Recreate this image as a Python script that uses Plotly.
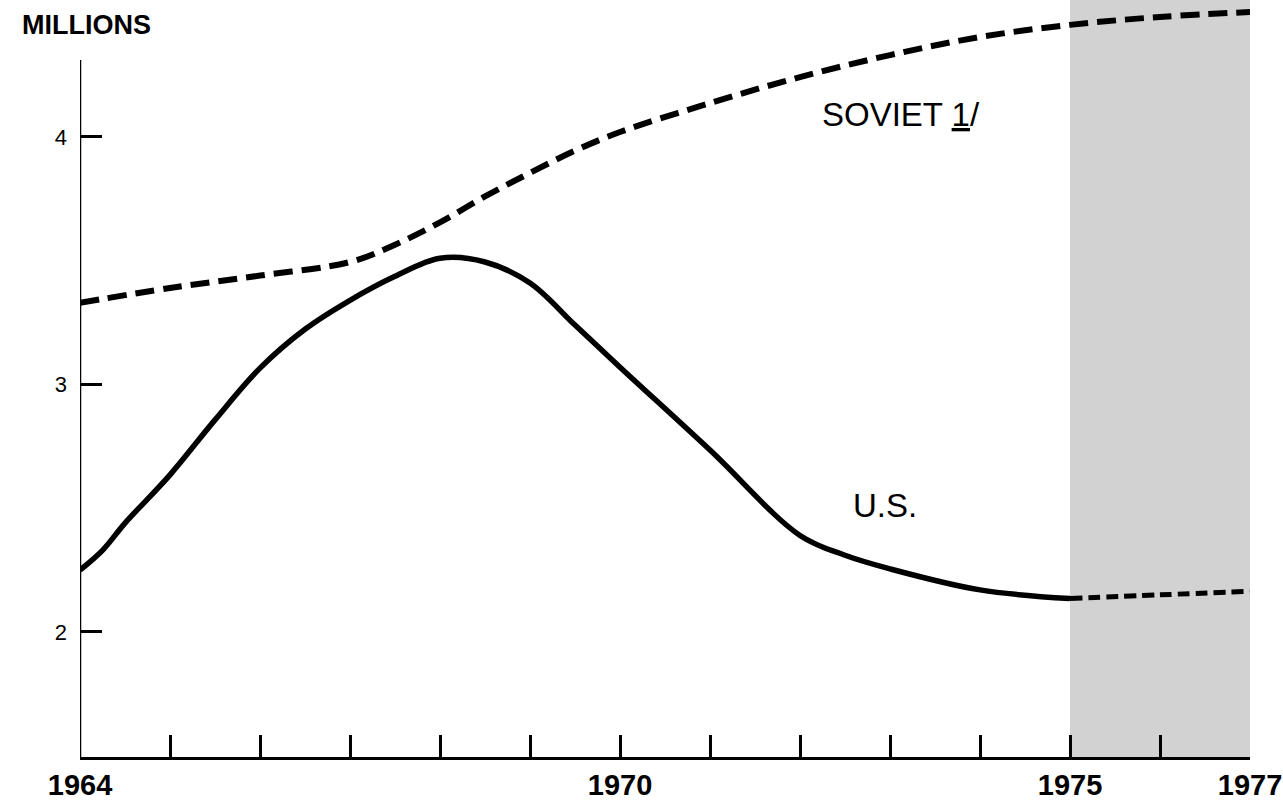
import plotly.graph_objects as go

# ---- data ----
soviet_years = [1964, 1965, 1966, 1967, 1967.5, 1968, 1968.5, 1969, 1969.5, 1970,
                1971, 1972, 1973, 1974, 1975, 1976, 1977]
soviet_vals = [3.33, 3.39, 3.44, 3.495, 3.565, 3.655, 3.76, 3.855, 3.945, 4.02,
               4.137, 4.242, 4.331, 4.404, 4.453, 4.485, 4.505]

us_years = [1964, 1964.25, 1964.5, 1965, 1965.5, 1966, 1966.5, 1967, 1967.5, 1968,
            1968.5, 1969, 1969.5, 1970, 1971, 1972, 1972.5, 1973, 1974, 1975]
us_vals = [2.25, 2.33, 2.44, 2.635, 2.857, 3.066, 3.223, 3.34, 3.437, 3.51,
           3.495, 3.41, 3.24, 3.07, 2.735, 2.39, 2.31, 2.255, 2.17, 2.135]

us_proj_years = [1975, 1976, 1977]
us_proj_vals = [2.135, 2.15, 2.165]

x_ticks = list(range(1964, 1978))
x_labels = ["1964", "", "", "", "", "", "1970", "", "", "", "", "1975", "", "1977"]
y_ticks = [2, 3, 4]
y_labels = ["2", "3", "4"]

shade_start, shade_end = 1975, 1977
y_min, y_max = 1.4949, 4.5535
y_axis_top = 4.311

fig = go.Figure()

fig.add_trace(go.Scatter(x=soviet_years, y=soviet_vals, mode="lines",
                         line=dict(color="black", width=6, dash="19px,9px", shape="spline"),
                         showlegend=False, hoverinfo="skip"))
fig.add_trace(go.Scatter(x=us_years, y=us_vals, mode="lines",
                         line=dict(color="black", width=5.5, shape="spline"),
                         showlegend=False, hoverinfo="skip"))
fig.add_trace(go.Scatter(x=us_proj_years, y=us_proj_vals, mode="lines",
                         line=dict(color="black", width=5, dash="12px,6px", shape="spline"),
                         showlegend=False, hoverinfo="skip"))

# shaded projection region
fig.add_shape(type="rect", xref="x", yref="y", x0=shade_start, x1=shade_end,
              y0=y_min, y1=y_max, fillcolor="#d2d2d2", line=dict(width=0), layer="below")
# y axis line (stops short of top)
fig.add_shape(type="line", xref="x", yref="y", x0=1964, x1=1964, y0=y_min, y1=y_axis_top,
              line=dict(color="black", width=2.5))

fig.add_annotation(x=1972.22, y=4.089, xref="x", yref="y", showarrow=False,
                   xanchor="left",
                   text="SOVIET <span style='text-decoration:underline'>1</span>/",
                   font=dict(family="Liberation Sans, Arial, sans-serif", size=33, color="black"))
fig.add_annotation(x=1972.57, y=2.513, xref="x", yref="y", showarrow=False,
                   xanchor="left", text="U.S.",
                   font=dict(family="Liberation Sans, Arial, sans-serif", size=33, color="black"))
fig.add_annotation(x=-0.0513, y=1.0, xref="paper", yref="paper", yanchor="top", xanchor="left",
                   showarrow=False, text="<b>MILLIONS</b>", yshift=-8,
                   font=dict(family="Liberation Sans, Arial, sans-serif",
                             size=27, color="black"))

fig.update_layout(
    width=1283, height=803,
    margin=dict(l=80, r=33, t=0, b=46, autoexpand=False),
    paper_bgcolor="white", plot_bgcolor="white",
    xaxis=dict(range=[1964, 1977], tickvals=x_ticks, ticktext=x_labels,
               ticks="inside", ticklen=22, tickwidth=2.5, tickcolor="black",
               showline=True, linecolor="black", linewidth=2.5, showgrid=False,
               zeroline=False, automargin=False,
               tickfont=dict(family="Liberation Sans, Arial, sans-serif",
                             size=29, color="black", weight="bold"),
               ticklabelstandoff=0),
    yaxis=dict(range=[y_min, y_max], tickvals=y_ticks, ticktext=y_labels,
               ticks="inside", ticklen=22, tickwidth=2.5, tickcolor="black",
               showline=False, showgrid=False, zeroline=False, automargin=False,
               tickfont=dict(family="Liberation Sans, Arial, sans-serif", size=22, color="black"),
               ticklabelstandoff=12),
)

fig.write_html("out.html", config={"displayModeBar": False},
               post_script="document.body.style.margin='0';document.body.style.overflow='hidden';")
